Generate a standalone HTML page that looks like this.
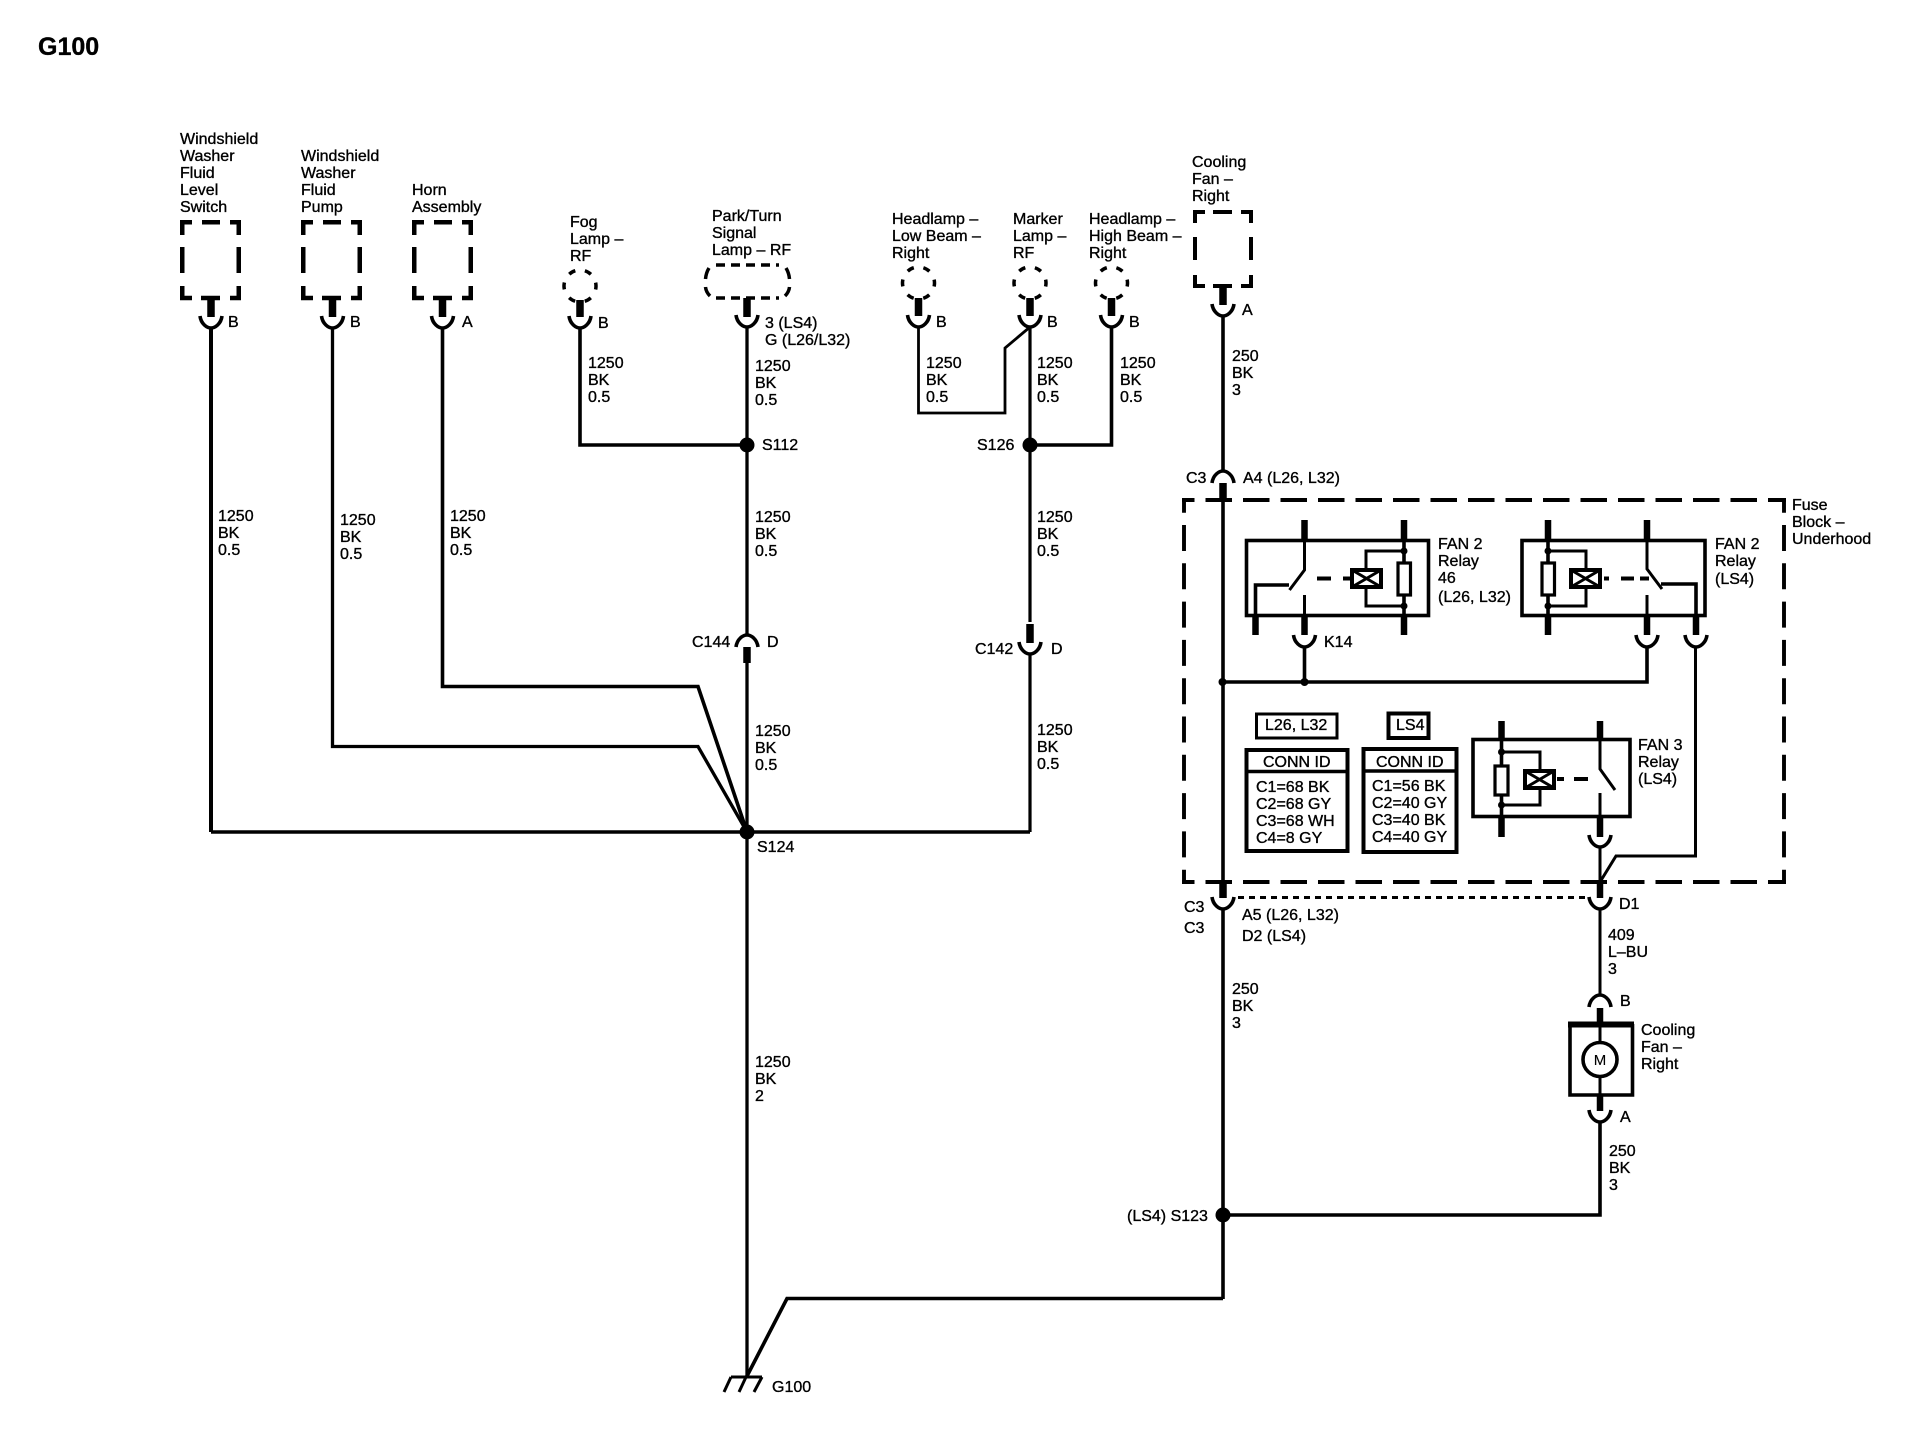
<!DOCTYPE html>
<html><head><meta charset="utf-8"><style>
html,body{margin:0;padding:0;background:#fff}
svg{display:block}
text{font-family:"Liberation Sans",Arial,sans-serif;font-size:16px;fill:#000;stroke:#000;stroke-width:.35px;transform:translateY(-1px)}
.w{fill:none;stroke:#000;stroke-width:3.6;stroke-linejoin:miter}
.s{fill:none;stroke:#000;stroke-width:7.5}
.n{fill:none;stroke:#000;stroke-width:3}
</style></head><body>
<svg width="1924" height="1440" viewBox="0 0 1924 1440" xmlns="http://www.w3.org/2000/svg">
<defs>
<g id="dbox" fill="none" stroke="#000" stroke-width="4.5">
<path d="M2.25,15V2.25H12M22,2.25H40M50,2.25H58.75V15M2.25,27V53M58.75,27V53M2.25,66V78H12M50,78H58.75V66"/>
<path d="M21,78H40" stroke-width="4.5"/>
</g>
<path id="cup" d="M-11,0C-10,8 -4,12 0,12C4,12 10,8 11,0" fill="none" stroke="#000" stroke-width="3.6"/>
<path id="cap" d="M-11,12C-10,4 -4,0 0,0C4,0 10,4 11,12" fill="none" stroke="#000" stroke-width="3.6"/>
<g id="lamp"><circle r="16" fill="none" stroke="#000" stroke-width="3.5" stroke-dasharray="7 9.75" stroke-dashoffset="3.5"/></g>
</defs>

<text x="38" y="56" style="font-size:25px;font-weight:bold">G100</text>

<!-- left components -->
<use href="#dbox" x="180" y="220"/><use href="#dbox" x="301" y="220"/><use href="#dbox" x="412" y="220"/>
<path class="s" d="M211,298V317M332.5,298V317M442.5,298V317"/>
<use href="#cup" x="211" y="316"/><use href="#cup" x="332.5" y="316"/><use href="#cup" x="442.5" y="316"/>
<text x="180" y="145">Windshield</text><text x="180" y="162">Washer</text><text x="180" y="179">Fluid</text><text x="180" y="196">Level</text><text x="180" y="213">Switch</text>
<text x="301" y="162">Windshield</text><text x="301" y="179">Washer</text><text x="301" y="196">Fluid</text><text x="301" y="213">Pump</text>
<text x="412" y="196">Horn</text><text x="412" y="213">Assembly</text>
<text x="228" y="328">B</text><text x="350" y="328">B</text><text x="462" y="328">A</text>

<path class="w" d="M211,327V832" style="stroke-width:4"/>
<path class="w" d="M332.5,327V746.5H698L747,832" style="stroke-width:3.3"/>
<path class="w" d="M442.5,327V686.5H698L747,832"/>
<path class="w" d="M211,832H1030"/>
<text x="218" y="522">1250</text><text x="218" y="539">BK</text><text x="218" y="556">0.5</text>
<text x="340" y="526">1250</text><text x="340" y="543">BK</text><text x="340" y="560">0.5</text>
<text x="450" y="522">1250</text><text x="450" y="539">BK</text><text x="450" y="556">0.5</text>

<!-- fog -->
<text x="570" y="228">Fog</text><text x="570" y="245">Lamp –</text><text x="570" y="262">RF</text>
<use href="#lamp" x="580" y="286"/>
<path class="s" d="M580,300V317"/><use href="#cup" x="580" y="316"/>
<text x="598" y="329">B</text>
<path class="w" d="M580,328V445H747"/>
<text x="588" y="369">1250</text><text x="588" y="386">BK</text><text x="588" y="403">0.5</text>

<!-- park -->
<text x="712" y="222">Park/Turn</text><text x="712" y="239">Signal</text><text x="712" y="256">Lamp – RF</text>
<path d="M716,265H779M716,298H779" fill="none" stroke="#000" stroke-width="3.6" stroke-dasharray="9 6"/>
<path d="M705.5,279Q706,273 709,268M705.5,287Q706,292 710,296M789.5,279Q789,273 786,268M789.5,287Q789,292 785,296" fill="none" stroke="#000" stroke-width="3.5"/>
<path class="s" d="M747,298V317"/><use href="#cup" x="747" y="315"/>
<text x="765" y="329">3 (LS4)</text><text x="765" y="346">G (L26/L32)</text>
<text x="755" y="372">1250</text><text x="755" y="389">BK</text><text x="755" y="406">0.5</text>
<path class="w" d="M747,327V635" style="stroke-width:3.3"/>
<circle cx="747" cy="445" r="7.5"/>
<text x="762" y="451">S112</text>
<text x="755" y="523">1250</text><text x="755" y="540">BK</text><text x="755" y="557">0.5</text>
<use href="#cap" x="747" y="635"/>
<path class="s" d="M747,647V663"/>
<path class="w" d="M747,663V1377" style="stroke-width:3.3"/>
<text x="692" y="648">C144</text><text x="767" y="648">D</text>
<text x="755" y="737">1250</text><text x="755" y="754">BK</text><text x="755" y="771">0.5</text>
<circle cx="747" cy="832" r="7.5"/>
<text x="757" y="853">S124</text>
<text x="755" y="1068">1250</text><text x="755" y="1085">BK</text><text x="755" y="1102">2</text>

<!-- ground -->
<path class="n" d="M731,1377H762M731,1377L724,1392M746,1377L739,1392M762,1377L754,1392"/>
<path class="w" d="M746.5,1377L787,1298.5H1223"/>
<text x="772" y="1393">G100</text>

<!-- headlamps -->
<text x="892" y="225">Headlamp –</text><text x="892" y="242">Low Beam –</text><text x="892" y="259">Right</text>
<text x="1013" y="225">Marker</text><text x="1013" y="242">Lamp –</text><text x="1013" y="259">RF</text>
<text x="1089" y="225">Headlamp –</text><text x="1089" y="242">High Beam –</text><text x="1089" y="259">Right</text>
<use href="#lamp" x="918.5" y="283"/><use href="#lamp" x="1030" y="283"/><use href="#lamp" x="1111.5" y="283"/>
<path class="s" d="M918.5,298V316M1030,298V316M1111.5,298V316"/>
<use href="#cup" x="918.5" y="315"/><use href="#cup" x="1030" y="315"/><use href="#cup" x="1111.5" y="315"/>
<text x="936" y="328">B</text><text x="1047" y="328">B</text><text x="1129" y="328">B</text>
<path class="w" d="M918.5,327V413H1005V348L1030,327" style="stroke-width:2.8"/>
<path class="w" d="M1030,327V622" style="stroke-width:3.2"/>
<path class="w" d="M1111.5,327V445H1030"/>
<circle cx="1030" cy="445" r="7.5"/>
<text x="926" y="369">1250</text><text x="926" y="386">BK</text><text x="926" y="403">0.5</text>
<text x="1037" y="369">1250</text><text x="1037" y="386">BK</text><text x="1037" y="403">0.5</text>
<text x="1120" y="369">1250</text><text x="1120" y="386">BK</text><text x="1120" y="403">0.5</text>
<text x="977" y="451">S126</text>
<text x="1037" y="523">1250</text><text x="1037" y="540">BK</text><text x="1037" y="557">0.5</text>
<path class="s" d="M1030,624V643"/><use href="#cup" x="1030" y="642"/>
<path class="w" d="M1030,653V832" style="stroke-width:3.2"/>
<text x="975" y="655">C142</text><text x="1051" y="655">D</text>
<text x="1037" y="736">1250</text><text x="1037" y="753">BK</text><text x="1037" y="770">0.5</text>

<!-- cooling fan top -->
<text x="1192" y="168">Cooling</text><text x="1192" y="185">Fan –</text><text x="1192" y="202">Right</text>
<path d="M1195,223V212H1205M1213,212H1232M1241,212H1251V223M1195,237V260M1251,237V260M1195,275V286H1205M1241,286H1251V275M1213,286H1232" fill="none" stroke="#000" stroke-width="4"/>
<path class="s" d="M1223,286V305"/><use href="#cup" x="1223" y="304"/>
<text x="1242" y="316">A</text>
<path class="w" d="M1223,315V470"/>
<text x="1232" y="362">250</text><text x="1232" y="379">BK</text><text x="1232" y="396">3</text>
<use href="#cap" x="1223" y="471"/>
<path class="s" d="M1223,483V500"/>
<text x="1186" y="484">C3</text><text x="1243" y="484">A4 (L26, L32)</text>

<!-- fuse block dashed -->
<path fill="none" stroke="#000" stroke-width="3.9" stroke-dasharray="26.5 11" stroke-dashoffset="14" d="M1182,500H1786M1182,882H1786"/>
<path fill="none" stroke="#000" stroke-width="3.9" stroke-dasharray="26 12.3" stroke-dashoffset="13.3" d="M1184,500V882M1784,500V882"/>
<text x="1792" y="511">Fuse</text><text x="1792" y="528">Block –</text><text x="1792" y="545">Underhood</text>

<!-- main right wire -->
<path class="w" d="M1223,500V880"/>
<path class="s" d="M1223,880V898"/><use href="#cup" x="1223" y="897"/>
<path class="w" d="M1223,908V1299"/>
<path fill="none" stroke="#000" stroke-width="3" stroke-dasharray="6 5" d="M1238,897.5H1590"/>
<text x="1184" y="913">C3</text><text x="1184" y="934">C3</text>
<text x="1242" y="921">A5 (L26, L32)</text><text x="1242" y="942">D2 (LS4)</text>
<text x="1232" y="995">250</text><text x="1232" y="1012">BK</text><text x="1232" y="1029">3</text>
<circle cx="1223" cy="1215" r="7.5"/>
<text x="1127" y="1222">(LS4) S123</text>
<path class="w" d="M1223,1215H1600V1122"/>

<!-- relay 1 -->
<rect x="1246.5" y="540.5" width="182" height="75" class="w"/>
<path class="s" d="M1304.5,520V540M1404,520V540M1255.5,617V635M1304.5,617V635M1404,617V635" style="stroke-width:6.5"/>
<path class="n" d="M1304.5,539V570L1289.5,590M1304.5,595V617"/>
<path class="w" d="M1255.5,617V585H1289"/>
<path class="w" d="M1404,539V617"/>
<path d="M1317,578.5H1331M1343,578.5H1351" class="w" style="stroke-width:4"/>
<rect x="1352" y="570" width="29" height="17" fill="#fff" stroke="#000" stroke-width="4"/>
<path d="M1352,570L1381,587M1381,570L1352,587" class="n"/>
<path class="n" d="M1366,569V551H1404M1366,588V606H1404"/>
<rect x="1398" y="563" width="12.5" height="32" fill="#fff" stroke="#000" stroke-width="3.2"/>
<circle cx="1404" cy="551" r="3.5"/><circle cx="1404" cy="606" r="3.5"/>
<use href="#cup" x="1304.5" y="635"/>
<text x="1324" y="648">K14</text>
<text x="1438" y="550">FAN 2</text><text x="1438" y="567">Relay</text><text x="1438" y="584">46</text><text x="1438" y="603">(L26, L32)</text>
<path class="w" d="M1304.5,646V682M1222.5,682H1647V646"/>
<circle cx="1222.5" cy="682" r="4"/><circle cx="1304.5" cy="682" r="4"/>

<!-- relay 2 -->
<rect x="1522" y="540.5" width="183" height="75" class="w"/>
<path class="s" d="M1548,520V540M1647,520V540M1548,617V635M1647,617V635M1696,617V635" style="stroke-width:6.5"/>
<path class="w" d="M1548,539V617"/>
<path class="n" d="M1647,539V569L1662,589M1647,595V617"/>
<path class="w" d="M1696,617V584H1661"/>
<path d="M1604,578.5H1609M1621,578.5H1634M1640,578.5H1649" class="w" style="stroke-width:4"/>
<rect x="1571" y="570" width="29" height="17" fill="#fff" stroke="#000" stroke-width="4"/>
<path d="M1571,570L1600,587M1600,570L1571,587" class="n"/>
<path class="n" d="M1586,569V551H1548M1586,588V606H1548"/>
<rect x="1542" y="563" width="12.5" height="32" fill="#fff" stroke="#000" stroke-width="3.2"/>
<circle cx="1548" cy="551" r="3.5"/><circle cx="1548" cy="606" r="3.5"/>
<use href="#cup" x="1647" y="635"/><use href="#cup" x="1696" y="635"/>
<text x="1715" y="550">FAN 2</text><text x="1715" y="567">Relay</text><text x="1715" y="585">(LS4)</text>
<path class="n" d="M1695.5,646V856H1616L1600,882"/>

<!-- conn tables -->
<rect x="1256.5" y="714" width="80.5" height="24" fill="none" stroke="#000" stroke-width="3"/>
<text x="1265" y="731">L26, L32</text>
<rect x="1388.5" y="713.5" width="40" height="24.5" fill="none" stroke="#000" stroke-width="4"/>
<text x="1396" y="731">LS4</text>
<rect x="1246.5" y="750" width="101" height="101" fill="none" stroke="#000" stroke-width="4"/>
<path d="M1246,771.5H1348" stroke="#000" stroke-width="3.5"/>
<text x="1263" y="768">CONN ID</text>
<text x="1256" y="793">C1=68 BK</text><text x="1256" y="810">C2=68 GY</text><text x="1256" y="827">C3=68 WH</text><text x="1256" y="844">C4=8 GY</text>
<rect x="1363.5" y="749" width="93" height="103" fill="none" stroke="#000" stroke-width="4"/>
<path d="M1363,771H1457" stroke="#000" stroke-width="3.5"/>
<text x="1376" y="768">CONN ID</text>
<text x="1372" y="792">C1=56 BK</text><text x="1372" y="809">C2=40 GY</text><text x="1372" y="826">C3=40 BK</text><text x="1372" y="843">C4=40 GY</text>

<!-- relay 3 -->
<rect x="1473" y="739.5" width="157" height="77" class="w"/>
<path class="s" d="M1501.5,721V739M1600,721V739M1501.5,818V837M1600,818V837" style="stroke-width:6.5"/>
<path class="w" d="M1501.5,738V818"/>
<path class="n" d="M1600,738V769L1615,790M1600,793V818"/>
<path d="M1557,779H1564M1574,779H1588" class="w" style="stroke-width:4"/>
<rect x="1525" y="771" width="29" height="17" fill="#fff" stroke="#000" stroke-width="4"/>
<path d="M1525,771L1554,788M1554,771L1525,788" class="n"/>
<path class="n" d="M1540,770V752H1501.5M1540,789V805H1501.5"/>
<rect x="1495" y="766" width="13" height="29" fill="#fff" stroke="#000" stroke-width="3.2"/>
<circle cx="1501.5" cy="752" r="3.5"/><circle cx="1501.5" cy="805" r="3.5"/>
<use href="#cup" x="1600" y="835"/>
<text x="1638" y="751">FAN 3</text><text x="1638" y="768">Relay</text><text x="1638" y="785">(LS4)</text>
<path class="n" d="M1600,846V882"/>
<path class="s" d="M1600,882V898" style="stroke-width:6.5"/>
<use href="#cup" x="1600" y="897"/>
<text x="1619" y="910">D1</text>
<path class="n" d="M1600,908V996"/>
<text x="1608" y="941">409</text><text x="1608" y="958">L–BU</text><text x="1608" y="975">3</text>

<!-- motor -->
<use href="#cap" x="1600" y="995"/>
<text x="1620" y="1007">B</text>
<path class="s" d="M1600,1008V1024" style="stroke-width:6.5"/>
<path d="M1568,1024.5H1634" stroke="#000" stroke-width="6"/>
<path d="M1570,1024V1095H1632.5V1024" class="w"/>
<path class="n" d="M1600,1024V1042M1600,1077V1096"/>
<circle cx="1600" cy="1059.5" r="17" fill="#fff" stroke="#000" stroke-width="3.6"/>
<text x="1600" y="1066" text-anchor="middle" style="font-size:15px;stroke-width:.1px">M</text>
<text x="1641" y="1036">Cooling</text><text x="1641" y="1053">Fan –</text><text x="1641" y="1070">Right</text>
<path class="s" d="M1600,1096V1111" style="stroke-width:6.5"/>
<use href="#cup" x="1600" y="1110"/>
<text x="1620" y="1123">A</text>
<text x="1609" y="1157">250</text><text x="1609" y="1174">BK</text><text x="1609" y="1191">3</text>
</svg>
</body></html>
